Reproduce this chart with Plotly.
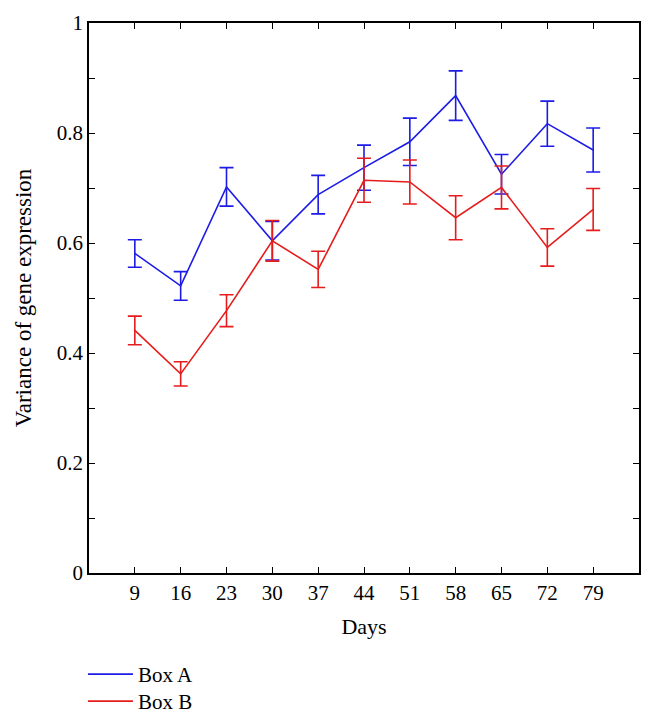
import plotly.graph_objects as go

days = [9, 16, 23, 30, 37, 44, 51, 58, 65, 72, 79]
box_a = [0.581, 0.522, 0.702, 0.604, 0.688, 0.737, 0.784, 0.868, 0.725, 0.817, 0.769]
box_a_err = [0.025, 0.026, 0.035, 0.035, 0.035, 0.041, 0.043, 0.045, 0.036, 0.041, 0.040]
box_b = [0.441, 0.362, 0.477, 0.604, 0.552, 0.714, 0.711, 0.646, 0.701, 0.592, 0.661]
box_b_err = [0.026, 0.022, 0.029, 0.037, 0.033, 0.040, 0.040, 0.040, 0.039, 0.034, 0.038]
y_ticks = [0, 0.2, 0.4, 0.6, 0.8, 1]
y_tick_labels = ["0", "0.2", "0.4", "0.6", "0.8", "1"]

BLUE = "#1c1ce6"
RED = "#e61c1c"
FONT = "Liberation Serif"

fig = go.Figure()
fig.add_trace(go.Scatter(
    x=days, y=box_a, mode="lines", name="Box A", legend="legend",
    line=dict(color=BLUE, width=1.6),
    error_y=dict(type="data", array=box_a_err, visible=True, color=BLUE, thickness=1.6, width=7),
))
fig.add_trace(go.Scatter(
    x=days, y=box_b, mode="lines", name="Box B", legend="legend2",
    line=dict(color=RED, width=1.6),
    error_y=dict(type="data", array=box_b_err, visible=True, color=RED, thickness=1.6, width=7),
))

legend_style = dict(
    x=-0.011, xanchor="left", yanchor="top",
    font=dict(family=FONT, size=21, color="black"),
    itemwidth=45, bgcolor="rgba(0,0,0,0)",
)

fig.update_layout(
    width=646, height=713,
    margin=dict(l=81, r=15, t=15, b=148, autoexpand=False),
    paper_bgcolor="white", plot_bgcolor="white",
    font=dict(family=FONT, size=21, color="black"),
    showlegend=True,
    legend=dict(y=-0.1473, **legend_style),
    legend2=dict(y=-0.1964, **legend_style),
)
fig.update_xaxes(
    range=[2, 86], tickmode="array", tickvals=days, ticktext=[str(d) for d in days],
    showgrid=False, zeroline=False, showline=True, linecolor="black", linewidth=1.5,
    mirror="ticks", ticks="inside", ticklen=6, tickwidth=1.2, tickcolor="black",
    tickfont=dict(family=FONT, size=21),
    title=dict(text="Days", font=dict(family=FONT, size=22), standoff=15),
)
fig.update_yaxes(
    range=[0, 1], tickmode="array", tickvals=y_ticks, ticktext=y_tick_labels,
    showgrid=False, zeroline=False, showline=True, linecolor="black", linewidth=1.5,
    mirror="ticks", ticks="inside", ticklen=6, tickwidth=1.2, tickcolor="black",
    tickfont=dict(family=FONT, size=21),
    minor=dict(dtick=0.1, tick0=0, ticks="inside", ticklen=6, tickwidth=1.2, tickcolor="black", showgrid=False),
    title=dict(text="Variance of gene expression", font=dict(family=FONT, size=23), standoff=19),
)

fig.write_html("out.html")
